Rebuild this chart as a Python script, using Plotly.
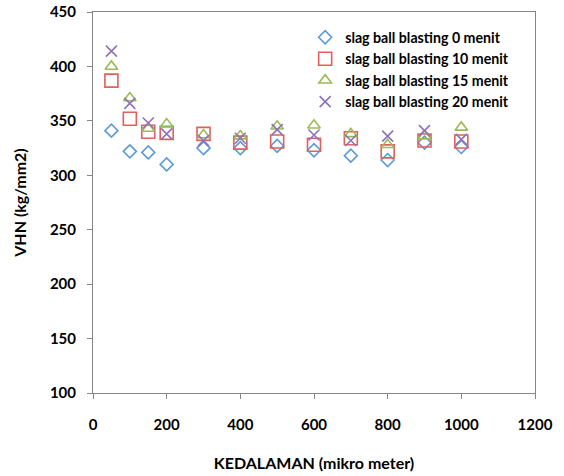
import plotly.graph_objects as go

depth = [50, 100, 150, 200, 300, 400, 500, 600, 700, 800, 900, 1000]
vhn_0 = [341, 322, 321, 310, 325, 325, 327, 323, 318, 314, 330, 326]
vhn_10 = [387, 352, 340, 339, 338, 330, 331, 328, 334, 322, 332, 331]
vhn_15 = [400, 371, 343, 347, 337, 336, 345, 346, 338, 328, 336, 344]
vhn_20 = [414, 366, 348, 338, 332, 334, 342, 337, 332, 336, 341, 333]

names = ["slag ball blasting 0 menit", "slag ball blasting 10 menit",
         "slag ball blasting 15 menit", "slag ball blasting 20 menit"]
series = [vhn_0, vhn_10, vhn_15, vhn_20]
symbols = ["diamond-open", "square-open", "triangle-up-open", "x-thin-open"]
colors = ["#5B9BD5", "#E0605A", "#9BBB59", "#8E72B8"]
sizes = [10, 13, 11, 11]

fig = go.Figure()
for n, s, sym, c, sz in zip(names, series, symbols, colors, sizes):
    fig.add_trace(go.Scatter(
        x=depth, y=s, mode="markers", name="<b>" + n + "</b>",
        marker=dict(symbol=sym, size=sz, color=c, line=dict(color=c, width=1.6)),
    ))

font = "Lato, 'Open Sans', sans-serif"
axis_common = dict(
    showline=True, linecolor="#868686", linewidth=1, mirror=True,
    ticks="outside", ticklen=5, tickcolor="#868686", showgrid=False, zeroline=False,
    tickfont=dict(family=font, size=15, color="#000000"),
    automargin=False, tickprefix="<b>", ticksuffix="</b>",
)
fig.update_layout(
    width=564, height=476,
    margin=dict(l=93, r=29, t=12, b=83, autoexpand=False),
    paper_bgcolor="white", plot_bgcolor="white",
    font=dict(family=font, size=14, color="#000000"),
    xaxis=dict(range=[0, 1200], tick0=0, dtick=200, ticklabelstandoff=13,
               title=dict(text="<b>KEDALAMAN (mikro meter)</b>", font=dict(family=font, size=16), standoff=25),
               **axis_common),
    yaxis=dict(range=[100, 450], tick0=100, dtick=50, ticklabelstandoff=8,
               title=dict(text="<b>VHN (kg/mm2)</b>", font=dict(family=font, size=16), standoff=19),
               **axis_common),
    legend=dict(x=0.48, y=0.975, xanchor="left", yanchor="top",
                bgcolor="rgba(0,0,0,0)", font=dict(family=font, size=14.2),
                tracegroupgap=0, itemwidth=30),
    showlegend=True,
)
fig.write_html("out.html", config={"displayModeBar": False},
               post_script="document.body.style.margin='0';document.body.style.overflow='hidden';")
